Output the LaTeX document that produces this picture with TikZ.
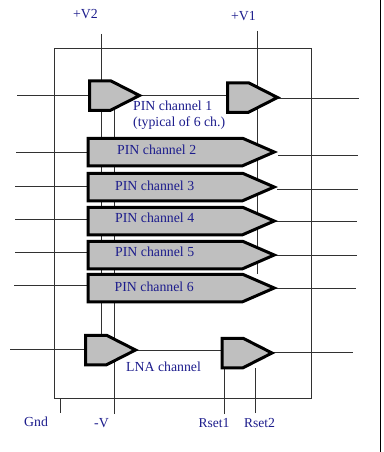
\documentclass[tikz,border=0pt]{standalone}
\usepackage{fontspec}
\setmainfont{Liberation Serif}
\usetikzlibrary{shapes.symbols}
\usetikzlibrary{backgrounds}
\definecolor{labelblue}{RGB}{28,28,140}
\definecolor{wiregray}{RGB}{50,50,50}
\begin{document}
\begin{tikzpicture}[x=1pt,y=-1pt,
    amp/.style={draw,line width=3pt,fill=black!25,signal,signal to=east,outer sep=0pt,inner sep=0pt,anchor=west,minimum width=50pt,minimum height=29.5pt,signal pointer angle=54},
    chan/.style={amp,minimum width=186pt,minimum height=27.5pt,signal pointer angle=47},
    lbl/.style={inner sep=0pt,anchor=base west,text=labelblue,font=\fontsize{13.8}{15}\selectfont},
    wire/.style={draw=wiregray,line width=1pt}]
  \useasboundingbox (0,0) rectangle (383,452);
  % amplifiers
  \node[amp] (pina) at (89.5,95.5) {};
  \node[amp] (pinb) at (227.5,97.5) {};
  \node[chan] (chb) at (88.2,152) {};
  \node[chan] (chc) at (88.2,187) {};
  \node[chan] (chd) at (88.2,221) {};
  \node[chan] (che) at (88.2,255) {};
  \node[chan] (chf) at (88.2,288) {};
  \node[amp] (lnaa) at (85.5,350) {};
  \node[amp] (lnab) at (222,353) {};
  % free ends
  \coordinate (vtwo) at (101,34);
  \coordinate (vone) at (257.5,31);
  \coordinate (vneg) at (114,414);
  \coordinate (gndt) at (60.5,399);
  \coordinate (gndb) at (60.5,412.5);
  \coordinate (rseta) at (224.5,414);
  \coordinate (rsetb) at (255,413);
  \coordinate (ina) at (17,95.5);
  \coordinate (inb) at (16,152.5);
  \coordinate (inc) at (15,186);
  \coordinate (ind) at (15,219);
  \coordinate (ine) at (15,252);
  \coordinate (inf) at (14,285);
  \coordinate (inl) at (10,349);
  \coordinate (outa) at (359,98);
  \coordinate (outb) at (358,155.5);
  \coordinate (outc) at (357.5,189);
  \coordinate (outd) at (357,221);
  \coordinate (oute) at (357,255);
  \coordinate (outf) at (356,288);
  \coordinate (outl) at (353,352.5);
  \begin{scope}[on background layer]
    \draw[wire] (54.5,48.5) rectangle (311,398.7);
    \draw[wire] (vtwo) -- (vtwo |- lnaa.north);
    \draw[wire] (vone) -- (vone |- chf.north);
    \draw[wire] (vneg) -- (vneg |- pina.south);
    \draw[wire] (gndt) -- (gndb);
    \draw[wire] (rseta) -- (rseta |- lnab.south);
    \draw[wire] (rsetb) -- (rsetb |- lnab.south);
    \draw[wire] (pina.east) -- (pina.east -| pinb.west);
    \draw[wire] (lnaa.east) -- (lnaa.east -| lnab.west);
    \draw[wire] (ina) -- (ina -| pina.west);
    \draw[wire] (inb) -- (inb -| chb.west);
    \draw[wire] (inc) -- (inc -| chc.west);
    \draw[wire] (ind) -- (ind -| chd.west);
    \draw[wire] (ine) -- (ine -| che.west);
    \draw[wire] (inf) -- (inf -| chf.west);
    \draw[wire] (inl) -- (inl -| lnaa.west);
    \draw[wire] (outa -| pinb.east) -- (outa);
    \draw[wire] ([xshift=4pt]outb -| chb.east) -- (outb);
    \draw[wire] ([xshift=3pt]outc -| chc.east) -- (outc);
    \draw[wire] (outd -| chd.east) -- (outd);
    \draw[wire] (oute -| che.east) -- (oute);
    \draw[wire] (outf -| chf.east) -- (outf);
    \draw[wire] (outl -| lnab.east) -- (outl);
  \end{scope}
  \draw[line width=1.3pt] (380.5,0) -- (380.5,452);
  % labels
  \node[lbl] (lvtwo) at (73,19) {+V2};
  \node[lbl] (lvone) at (231,21) {+V1};
  \node[lbl] (lpina) at (133,110) {PIN channel 1};
  \node[lbl] (ltyp) at (133,126) {(typical of 6 ch.)};
  \node[lbl] (lchb) at (117,154) {PIN channel 2};
  \node[lbl] (lchc) at (115,190) {PIN channel 3};
  \node[lbl] (lchd) at (115,222.7) {PIN channel 4};
  \node[lbl] (lche) at (115,256.7) {PIN channel 5};
  \node[lbl] (lchf) at (114.5,291) {PIN channel 6};
  \node[lbl] (llna) at (126,371) {LNA channel};
  \node[lbl] (lgnd) at (24,426.7) {Gnd};
  \node[lbl] (lvneg) at (94,427) {-V};
  \node[lbl] (lrseta) at (198.5,427.7) {{\fontsize{13.5}{15}\selectfont Rset}1};
  \node[lbl] (lrsetb) at (244,427.7) {{\fontsize{13.5}{15}\selectfont Rset}2};
\end{tikzpicture}
\end{document}
